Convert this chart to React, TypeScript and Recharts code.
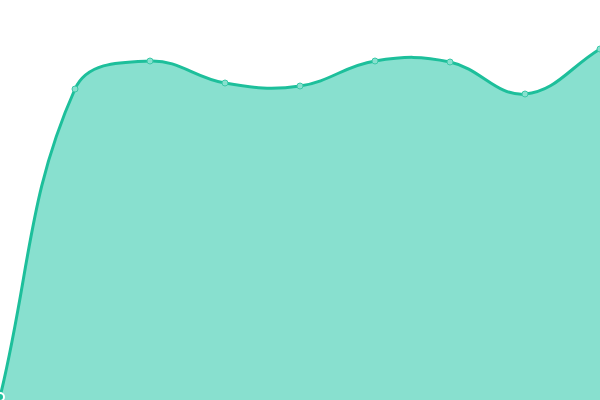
import { Area, AreaChart, XAxis, YAxis } from "recharts";

const labels = ["a", "b", "c", "d", "e", "f", "g", "h", "i"];
const values = [3, 311, 339, 317, 314, 339, 338, 306, 351];

const data = labels.map((label, i) => ({ label, value: values[i] }));

// spline like chart.js "tension" smoothing (distance weighted control points)
function tensionCurve(t: number) {
  return (context: any) => {
    let line = NaN;
    let pts: [number, number][] = [];
    return {
      areaStart() {
        line = 0;
      },
      areaEnd() {
        line = NaN;
      },
      lineStart() {
        pts = [];
      },
      point(x: number, y: number) {
        pts.push([+x, +y]);
      },
      lineEnd() {
        const n = pts.length;
        if (n) {
          const cps = pts.map((cur, i) => {
            const prev = pts[i - 1] || cur;
            const next = pts[i + 1] || cur;
            const d01 = Math.hypot(cur[0] - prev[0], cur[1] - prev[1]);
            const d12 = Math.hypot(next[0] - cur[0], next[1] - cur[1]);
            let s01 = d01 / (d01 + d12);
            let s12 = d12 / (d01 + d12);
            if (isNaN(s01)) s01 = 0;
            if (isNaN(s12)) s12 = 0;
            const dx = next[0] - prev[0];
            const dy = next[1] - prev[1];
            return {
              before: [cur[0] - t * s01 * dx, cur[1] - t * s01 * dy],
              after: [cur[0] + t * s12 * dx, cur[1] + t * s12 * dy],
            };
          });
          if (line) context.lineTo(pts[0][0], pts[0][1]);
          else context.moveTo(pts[0][0], pts[0][1]);
          for (let i = 1; i < n; i++) {
            const a = cps[i - 1].after;
            const b = cps[i].before;
            context.bezierCurveTo(a[0], a[1], b[0], b[1], pts[i][0], pts[i][1]);
          }
        }
        if (line || (line !== 0 && n === 1)) context.closePath();
        line = 1 - line;
      },
    };
  };
}

const curve = tensionCurve(0.4);

export default function App() {
  return (
    <div style={{ position: "fixed", left: 0, top: 0, width: 600, height: 400, background: "#fff" }}>
      <AreaChart width={600} height={400} data={data} margin={{ top: 0, right: 0, bottom: 0, left: 0 }}>
        <XAxis dataKey="label" hide />
        <YAxis hide domain={[0, 400]} />
        <Area
          type={curve as any}
          dataKey="value"
          stroke="#1dbf9b"
          strokeWidth={3}
          fill="#88e0cf"
          fillOpacity={1}
          dot={{ r: 3, fill: "#88e0cf", stroke: "#3cc9a8", strokeWidth: 1 }}
          isAnimationActive={false}
        />
      </AreaChart>
    </div>
  );
}
